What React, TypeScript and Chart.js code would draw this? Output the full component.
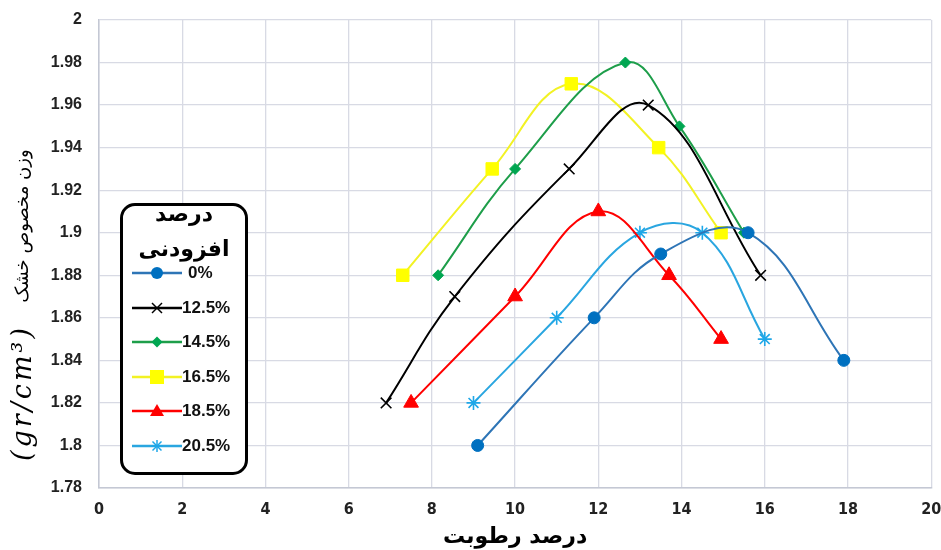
import React, { useEffect, useRef } from "react";
import { Chart, registerables } from "chart.js";

Chart.register(...registerables);

// ---- data ----
const seriesLabels = ["0%", "12.5%", "14.5%", "16.5%", "18.5%", "20.5%"];

const moisture0 = [9.1, 11.9, 13.5, 15.6, 17.9];
const density0 = [1.8, 1.86, 1.89, 1.9, 1.84];

const moisture125 = [6.9, 8.55, 11.3, 13.2, 15.9];
const density125 = [1.82, 1.87, 1.93, 1.96, 1.88];

const moisture145 = [8.15, 10.0, 12.65, 13.95, 15.5];
const density145 = [1.88, 1.93, 1.98, 1.95, 1.9];

const moisture165 = [7.3, 9.45, 11.35, 13.45, 14.95];
const density165 = [1.88, 1.93, 1.97, 1.94, 1.9];

const moisture185 = [7.5, 10.0, 12.0, 13.7, 14.95];
const density185 = [1.82, 1.87, 1.91, 1.88, 1.85];

const moisture205 = [9.0, 11.0, 13.0, 14.5, 16.0];
const density205 = [1.82, 1.86, 1.9, 1.9, 1.85];

const xTicks = [0, 2, 4, 6, 8, 10, 12, 14, 16, 18, 20];
const yTicks = [1.78, 1.8, 1.82, 1.84, 1.86, 1.88, 1.9, 1.92, 1.94, 1.96, 1.98, 2];

const xTitle = "درصد رطوبت";
const yTitleFa = "وزن مخصوص خشک";
const yTitleUnit = "(gr/cm³)";
const legendTitle1 = "درصد";
const legendTitle2 = "افزودنی";

const moistures = [moisture0, moisture125, moisture145, moisture165, moisture185, moisture205];
const densities = [density0, density125, density145, density165, density185, density205];

const lineColors = ["#2E75B6", "#000000", "#1E9E4A", "#F2F224", "#FF0000", "#2AA6E0"];
const markerColors = ["#0070C0", "#000000", "#00A651", "#FFFF00", "#FF0000", "#1EA7E8"];
const markerStyles = ["circle", "crossRot", "rectRot", "rect", "triangle", "star"];
const markerRadii = [6, 7.5, 5.5, 8.8, 8.5, 7];

function Marker({ idx }: { idx: number }) {
  const c = markerColors[idx];
  const lc = lineColors[idx];
  const s = markerStyles[idx];
  let shape: any = null;
  const cx = 25, cy = 10;
  if (s === "circle") shape = <circle cx={cx} cy={cy} r={6} fill={c} />;
  else if (s === "crossRot")
    shape = (
      <g stroke={c} strokeWidth={1.5}>
        <line x1={cx - 5} y1={cy - 5} x2={cx + 5} y2={cy + 5} />
        <line x1={cx - 5} y1={cy + 5} x2={cx + 5} y2={cy - 5} />
      </g>
    );
  else if (s === "rectRot")
    shape = <polygon points={`${cx},${cy - 5.5} ${cx + 5.5},${cy} ${cx},${cy + 5.5} ${cx - 5.5},${cy}`} fill={c} />;
  else if (s === "rect") shape = <rect x={cx - 7} y={cy - 7} width={14} height={14} fill={c} />;
  else if (s === "triangle")
    shape = <polygon points={`${cx},${cy - 7} ${cx + 7},${cy + 5} ${cx - 7},${cy + 5}`} fill={c} />;
  else if (s === "star")
    shape = (
      <g stroke={c} strokeWidth={1.5}>
        <line x1={cx} y1={cy - 6} x2={cx} y2={cy + 6} />
        <line x1={cx - 6} y1={cy} x2={cx + 6} y2={cy} />
        <line x1={cx - 4.5} y1={cy - 4.5} x2={cx + 4.5} y2={cy + 4.5} />
        <line x1={cx - 4.5} y1={cy + 4.5} x2={cx + 4.5} y2={cy - 4.5} />
      </g>
    );
  return (
    <svg width={50} height={20} style={{ display: "block" }}>
      <line x1={0} y1={cy} x2={50} y2={cy} stroke={lc} strokeWidth={2.5} />
      {shape}
    </svg>
  );
}

const titlePlugin = {
  id: "customTitles",
  afterDraw(chart: any) {
    const ctx = chart.ctx;
    ctx.save();
    ctx.fillStyle = "#000";
    ctx.textAlign = "center";
    ctx.textBaseline = "middle";
    // x title
    ctx.font = "bold 22px 'DejaVu Sans', sans-serif";
    ctx.fillText(xTitle, (chart.chartArea.left + chart.chartArea.right) / 2, 537);
    // y title
    ctx.translate(23, 0);
    ctx.rotate(-Math.PI / 2);
    ctx.font = "18px 'DejaVu Sans', sans-serif";
    ctx.fillText(yTitleFa, -226, 0);
    ctx.font = "italic 27px 'DejaVu Serif', serif";
    (ctx as any).letterSpacing = "3px";
    ctx.fillText(yTitleUnit, -393, 1);
    ctx.restore();
  },
};

export default function App() {
  const ref = useRef<HTMLCanvasElement>(null);

  useEffect(() => {
    if (!ref.current) return;
    const datasets = seriesLabels.map((label, i) => ({
      label,
      data: moistures[i].map((x, j) => ({ x, y: densities[i][j] })),
      borderColor: lineColors[i],
      backgroundColor: markerColors[i],
      pointBackgroundColor: markerColors[i],
      pointBorderColor: markerColors[i],
      pointBorderWidth: markerStyles[i] === "crossRot" || markerStyles[i] === "star" ? 1.6 : 1,
      pointStyle: markerStyles[i] as any,
      pointRadius: markerRadii[i],
      borderWidth: 2,
      tension: 0.4,
      fill: false,
      showLine: true,
    }));
    const chart = new Chart(ref.current, {
      type: "scatter",
      data: { datasets },
      options: {
        animation: false,
        responsive: false,
        layout: { padding: { left: 0, right: 9, top: 20, bottom: 0 } },
        plugins: { legend: { display: false }, tooltip: { enabled: false } },
        scales: {
          x: {
            type: "linear",
            min: 0,
            max: 20,
            afterBuildTicks: (s: any) => {
              s.ticks = xTicks.map((v) => ({ value: v }));
            },
            afterFit: (s: any) => {
              s.height = 62;
              s.paddingLeft = 0;
              s.paddingRight = 0;
            },
            grid: { color: "#D8DAE4", lineWidth: 1.3, drawTicks: false },
            border: { color: "#C4C8D4", width: 1.5 },
            ticks: {
              padding: 12,
              color: "#222",
              font: { family: "'Liberation Sans Narrow', 'DejaVu Sans Condensed', sans-serif", size: 16, weight: "bold" },
              maxRotation: 0,
            },
          },
          y: {
            type: "linear",
            min: 1.78,
            max: 2,
            afterBuildTicks: (s: any) => {
              s.ticks = yTicks.map((v) => ({ value: v }));
            },
            afterFit: (s: any) => {
              s.width = 99;
              s.paddingTop = 0;
              s.paddingBottom = 0;
            },
            grid: { color: "#D8DAE4", lineWidth: 1.3, drawTicks: false },
            border: { color: "#C4C8D4", width: 1.5 },
            ticks: {
              padding: 17,
              color: "#222",
              font: { family: "'Liberation Sans', Arial, sans-serif", size: 16, weight: "bold" },
              callback: (v: any) => String(Number(Number(v).toFixed(2))),
            },
          },
        },
      },
      plugins: [titlePlugin],
    });
    return () => chart.destroy();
  }, []);

  return (
    <div style={{ position: "fixed", left: 0, top: 0, width: 941, height: 550, background: "#fff" }}>
      <canvas ref={ref} width={941} height={550} style={{ display: "block" }} />
      <div
        style={{
          position: "absolute",
          left: 120,
          top: 203,
          width: 128,
          height: 272,
          boxSizing: "border-box",
          border: "3px solid #000",
          borderRadius: 15,
          background: "#fff",
          fontFamily: "'DejaVu Sans', sans-serif",
        }}
      >
        <div style={{ textAlign: "center", fontWeight: "bold", fontSize: 22, lineHeight: "35px", marginTop: -10, direction: "rtl" }}>
          <div>{legendTitle1}</div>
          <div>{legendTitle2}</div>
        </div>
        <div style={{ marginTop: -10 }}>
          {seriesLabels.map((l, i) => (
            <div key={l} style={{ display: "flex", alignItems: "center", height: 34.5, marginLeft: 9 }}>
              <Marker idx={i} />
              <span
                style={{
                  fontFamily: "'Liberation Sans', Arial, sans-serif",
                  fontWeight: "bold",
                  fontSize: 17,
                  marginLeft: i === 0 ? 6 : 0,
                  color: "#111",
                }}
              >
                {l}
              </span>
            </div>
          ))}
        </div>
      </div>
    </div>
  );
}
